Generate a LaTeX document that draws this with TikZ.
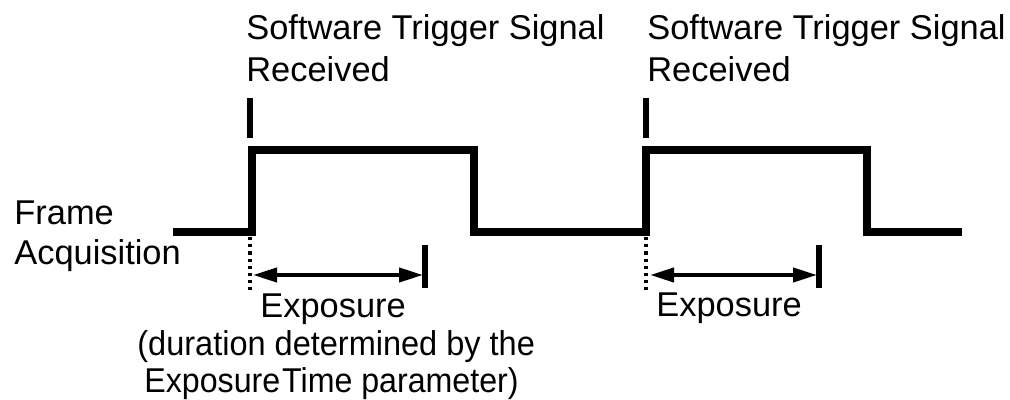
\documentclass[tikz,border=0pt]{standalone}
\usepackage{fontspec}
\setmainfont{Liberation Sans}
\usetikzlibrary{arrows.meta}
\begin{document}
\begin{tikzpicture}[x=0.5pt,y=-0.5pt,
  lbl/.style={anchor=base west,inner sep=0pt,font=\fontsize{17.2pt}{21pt}\selectfont},
  wave/.style={line width=4pt,line join=miter},
  trig/.style={line width=2.6pt},
  dots/.style={line width=1.6pt,dash pattern=on 1.6pt off 2pt},
  meas/.style={line width=2pt,{Triangle[length=12pt,width=7pt]}-{Triangle[length=12pt,width=7pt]}},
  bar/.style={line width=2.6pt}]
\useasboundingbox (0,0) rectangle (1010,400);
% waveform
\draw[wave] (173,232) -- (252,232) -- (252,150.5) -- (474,150.5) -- (474,232)
  -- (646,232) -- (646,150.5) -- (867,150.5) -- (867,232) -- (962,232);
% trigger marks
\coordinate (t1a) at (250,98); \coordinate (t1b) at (250,138);
\coordinate (t2a) at (646,98); \coordinate (t2b) at (646,138);
\draw[trig] (t1a) -- (t1b);
\draw[trig] (t2a) -- (t2b);
% dotted lines
\coordinate (d1a) at (250,237); \coordinate (d1b) at (250,290);
\coordinate (d2a) at (646,237); \coordinate (d2b) at (646,290);
\draw[dots] (d1a) -- (d1b);
\draw[dots] (d2a) -- (d2b);
% measurement arrows
\coordinate (a1l) at (253,275); \coordinate (a1r) at (423,275);
\coordinate (b1a) at (425,245); \coordinate (b1b) at (425,288);
\draw[meas] (a1l) -- (a1r);
\draw[bar] (b1a) -- (b1b);
\coordinate (a2l) at (650,275); \coordinate (a2r) at (817,275);
\coordinate (b2a) at (819,245); \coordinate (b2b) at (819,288);
\draw[meas] (a2l) -- (a2r);
\draw[bar] (b2a) -- (b2b);
% labels
\node[lbl] (s1) at (246,40) {Software Trigger Signal};
\node[lbl] (r1) at (246,82) {Received};
\node[lbl] (s2) at (647,40) {Software Trigger Signal};
\node[lbl] (r2) at (647,82) {Received};
\node[lbl] (fr) at (14,225) {Frame};
\node[lbl] (aq) at (14,264) {Acquisition};
\node[lbl] (e1) at (260,317) {Exposure};
\node[lbl] (du) at (137,355) {\scalebox{0.945}[1]{(duration determined by the}};
\node[lbl] (et) at (144,392) {\scalebox{0.935}[1]{Exposure\kern1ptTime parameter)}};
\node[lbl] (e2) at (656,316) {Exposure};
\end{tikzpicture}
\end{document}
